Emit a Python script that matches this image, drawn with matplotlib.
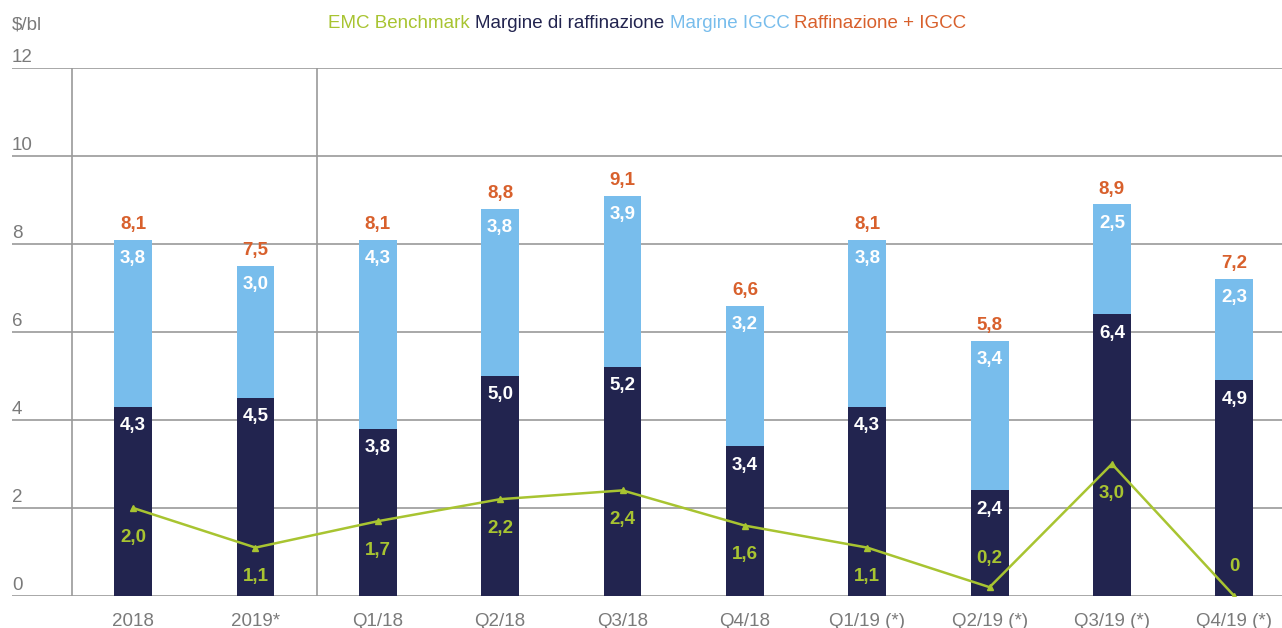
import matplotlib.pyplot as plt
import numpy as np

# dati
categorie = ["2018", "2019*", "Q1/18", "Q2/18", "Q3/18", "Q4/18",
             "Q1/19 (*)", "Q2/19 (*)", "Q3/19 (*)", "Q4/19 (*)"]
raffinazione = [4.3, 4.5, 3.8, 5.0, 5.2, 3.4, 4.3, 2.4, 6.4, 4.9]
igcc = [3.8, 3.0, 4.3, 3.8, 3.9, 3.2, 3.8, 3.4, 2.5, 2.3]
totale = [8.1, 7.5, 8.1, 8.8, 9.1, 6.6, 8.1, 5.8, 8.9, 7.2]
emc = [2.0, 1.1, 1.7, 2.2, 2.4, 1.6, 1.1, 0.2, 3.0, 0.0]

VERDE = "#a8c431"
BLU = "#22244f"
AZZURRO = "#78bdec"
ARANCIO = "#d8602c"
GRIGIO = "#7a7a7a"
FS = 13.5

plt.rcParams["font.family"] = ["Liberation Sans", "DejaVu Sans"]


def fmt(v):
    if v == 0:
        return "0"
    return f"{v:.1f}".replace(".", ",")


fig = plt.figure(figsize=(12.82, 6.28), dpi=100)
ax = fig.add_axes([12 / 1282, 32 / 628, 1270 / 1282, 528 / 628])

x = np.arange(len(categorie))
w = 0.31

ax.bar(x, raffinazione, width=w, color=BLU, zorder=2)
ax.bar(x, igcc, width=w, bottom=raffinazione, color=AZZURRO, zorder=2)
ax.plot(x, emc, color=VERDE, lw=1.8, marker="^", markersize=5, zorder=3)

for i in range(len(x)):
    ax.annotate(fmt(raffinazione[i]), (x[i], raffinazione[i]), xytext=(0, -13.5),
                textcoords="offset points", ha="center", va="center",
                color="white", fontsize=FS, fontweight="bold", zorder=4)
    ax.annotate(fmt(igcc[i]), (x[i], totale[i]), xytext=(0, -13.5),
                textcoords="offset points", ha="center", va="center",
                color="white", fontsize=FS, fontweight="bold", zorder=4)
    ax.annotate(fmt(totale[i]), (x[i], totale[i]), xytext=(0, 11),
                textcoords="offset points", ha="center", va="center",
                color=ARANCIO, fontsize=FS, fontweight="bold", zorder=4)
    dy = 21 if emc[i] < 0.5 else -21
    ax.annotate(fmt(emc[i]), (x[i], emc[i]), xytext=(0, dy),
                textcoords="offset points", ha="center", va="center",
                color=VERDE, fontsize=FS, fontweight="bold", zorder=4)

ax.set_xlim(-0.99, 9.39)
ax.set_ylim(0, 12)
ax.set_yticks(np.arange(0, 13, 2))
ax.yaxis.grid(True, color="#9a9a9a", lw=1.2, zorder=0)
ax.axvline(-0.5, color="#9a9a9a", lw=1.2, zorder=0)
ax.axvline(1.5, color="#9a9a9a", lw=1.2, zorder=0)
for s in ax.spines.values():
    s.set_visible(False)
ax.tick_params(length=0)
ax.set_xticks(x)
ax.set_xticklabels(categorie, color=GRIGIO, fontsize=FS)
ax.tick_params(axis="x", pad=12)
ax.set_yticklabels([])
for t in np.arange(0, 13, 2):
    ax.annotate(str(t), (0, t), xycoords=("axes fraction", "data"), xytext=(0, 1.5),
                textcoords="offset points", ha="left", va="bottom",
                color=GRIGIO, fontsize=FS)

fig.text(12 / 1282, 1 - 25 / 628, "$/bl", color=GRIGIO, fontsize=FS, va="center")

# legenda come testo colorato
voci = [("EMC Benchmark", VERDE), ("Margine di raffinazione", BLU),
        ("Margine IGCC", AZZURRO), ("Raffinazione + IGCC", ARANCIO)]
prev = fig.text(328 / 1282, 1 - 23 / 628, voci[0][0] + " ", color=voci[0][1],
                fontsize=FS, va="center")
for testo, col in voci[1:]:
    prev = ax.annotate(testo + " ", xy=(1, 0.5), xycoords=prev, ha="left",
                       va="center", color=col, fontsize=FS,
                       annotation_clip=False)

fig.savefig("out.png", dpi=100)
